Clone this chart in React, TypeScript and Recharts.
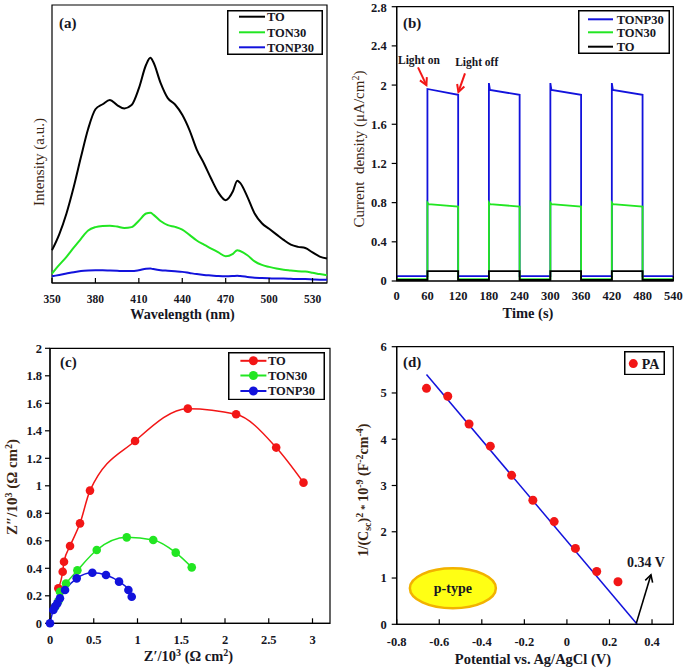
import React from "react";
import {
  LineChart,
  ComposedChart,
  Line,
  Scatter,
  XAxis,
  YAxis,
  ReferenceArea,
  ReferenceLine,
  ReferenceDot,
  Legend,
} from "recharts";

const SERIF = "'Liberation Serif', 'Times New Roman', serif";
const INK = "#161623";
const BROWN = "#3a2614";
const BLUE = "#1212dc";
const GREEN = "#22e622";
const RED = "#f21616";

// (a) PL spectra, intensity in arbitrary units (0..100 of the frame)
const wavelengths = [350, 355, 360, 365, 370, 375, 380, 385, 390, 395, 400, 405, 410, 415, 418, 420, 425, 430, 435, 440, 445, 450, 455, 460, 465, 470, 475, 478, 480, 485, 490, 495, 500, 505, 510, 515, 520, 525, 530, 535, 540];
const plTO = [11.8, 17.5, 25, 34.5, 45.3, 55.5, 62.5, 64.3, 65.8, 64, 62.8, 64, 70, 78.5, 81, 79.5, 72, 66.5, 64.2, 60.5, 55, 48, 43, 37.5, 32.5, 29.8, 33, 36.8, 36, 31, 25, 21.5, 19.5, 17.5, 15.5, 13.8, 13, 12.6, 11, 9.5, 8.8];
const plTON30 = [3.4, 6.5, 9.4, 12.7, 15.9, 18.9, 20.1, 20.5, 20.6, 20.3, 19.8, 20.1, 22.4, 25, 25.3, 24.6, 22.3, 20.8, 20.2, 19.2, 17.3, 15.3, 13.8, 12.4, 11, 9.6, 10.5, 11.8, 11.5, 10, 7.8, 6.5, 5.8, 5.2, 4.8, 4.5, 4.2, 4.1, 3.7, 3.2, 2.8];
const plTONP30 = [2.4, 2.9, 3.4, 3.9, 4.3, 4.5, 4.6, 4.6, 4.5, 4.4, 4.3, 4.3, 4.6, 5.1, 5.2, 5.0, 4.6, 4.4, 4.2, 4.0, 3.6, 3.2, 2.9, 2.7, 2.5, 2.4, 2.5, 2.6, 2.5, 2.2, 1.9, 1.8, 1.7, 1.6, 1.6, 1.5, 1.4, 1.4, 1.3, 1.2, 1.2];
const wavelengthTicks = [350, 380, 410, 440, 470, 500, 530];

// (b) transient photocurrent
const timeTicks = [0, 60, 120, 180, 240, 300, 360, 420, 480, 540];
const currentTicks = [0, 0.4, 0.8, 1.2, 1.6, 2, 2.4, 2.8];
const tTONP30 = [0, 60, 60, 120, 120, 180, 180, 182, 240, 240, 300, 300, 302, 360, 360, 420, 420, 422, 480, 480, 540];
const jTONP30 = [0.05, 0.05, 1.96, 1.9, 0.05, 0.05, 2.02, 1.95, 1.9, 0.05, 0.05, 2.02, 1.95, 1.9, 0.05, 0.05, 2.02, 1.95, 1.9, 0.05, 0.05];
const tTON30 = [0, 60, 60, 62, 120, 120, 180, 180, 182, 240, 240, 300, 300, 302, 360, 360, 420, 420, 422, 480, 480, 540];
const jTON30 = [0.02, 0.02, 0.8, 0.785, 0.76, 0.02, 0.02, 0.8, 0.785, 0.76, 0.02, 0.02, 0.8, 0.785, 0.76, 0.02, 0.02, 0.8, 0.785, 0.76, 0.02, 0.02];
const tTO = [0, 60, 60, 120, 120, 180, 180, 240, 240, 300, 300, 360, 360, 420, 420, 480, 480, 540];
const jTO = [0.01, 0.01, 0.1, 0.1, 0.01, 0.01, 0.1, 0.1, 0.01, 0.01, 0.1, 0.1, 0.01, 0.01, 0.1, 0.1, 0.01, 0.01];

// (c) Nyquist plots
const zTicksX = [0, 0.5, 1, 1.5, 2, 2.5, 3];
const zTicksY = [0, 0.2, 0.4, 0.6, 0.8, 1, 1.2, 1.4, 1.6, 1.8, 2];
const zReTO = [0.095, 0.145, 0.16, 0.229, 0.343, 0.457, 0.972, 1.575, 2.127, 2.585, 2.897];
const zImTO = [0.255, 0.375, 0.448, 0.562, 0.727, 0.965, 1.326, 1.561, 1.52, 1.278, 1.023];
const zReTON30 = [0.06, 0.095, 0.114, 0.183, 0.313, 0.534, 0.877, 1.18, 1.437, 1.62];
const zImTON30 = [0.12, 0.16, 0.23, 0.29, 0.385, 0.533, 0.625, 0.606, 0.514, 0.407];
const zReTONP30 = [0, 0.038, 0.057, 0.084, 0.114, 0.172, 0.305, 0.484, 0.64, 0.789, 0.896, 0.934];
const zImTONP30 = [0, 0.097, 0.121, 0.145, 0.182, 0.242, 0.327, 0.368, 0.351, 0.303, 0.242, 0.193];

// (d) Mott-Schottky
const potentialTicks = [-0.8, -0.6, -0.4, -0.2, 0, 0.2, 0.4];
const msTicks = [0, 1, 2, 3, 4, 5, 6];
const potentials = [-0.66, -0.56, -0.46, -0.36, -0.26, -0.16, -0.06, 0.04, 0.14, 0.24];
const invCsq = [5.1, 4.93, 4.33, 3.85, 3.22, 2.68, 2.22, 1.64, 1.14, 0.92];
const fitPotentials = [-0.66, 0.33];
const fitValues = [5.4, 0];

const pairs = (xs: number[], ys: number[]) => xs.map((x, i) => ({ x, y: ys[i] }));

const plData = wavelengths.map((w, i) => ({ w, TO: plTO[i], TON30: plTON30[i], TONP30: plTONP30[i] }));

const tick = (size: number) => ({ fontSize: size, fontWeight: 700, fill: INK, fontFamily: SERIF });
const axisLine = { stroke: "#000", strokeWidth: 1.2 };

type Item = { name: string; color: string };

function BoxLegend({ items, w, h, rows, lineFrom, lineTo, textX, dot, fontSize }: {
  items: Item[]; w: number; h: number; rows: number[]; lineFrom: number; lineTo: number;
  textX: number; dot?: boolean; fontSize: number;
}) {
  return (
    <svg width={w} height={h} style={{ display: "block" }}>
      <rect x={0.75} y={0.75} width={w - 1.5} height={h - 1.5} fill="#fff" stroke="#000" strokeWidth={1.5} />
      {items.map((it, i) => (
        <g key={it.name}>
          {lineTo > lineFrom && (
            <line x1={lineFrom} x2={lineTo} y1={rows[i]} y2={rows[i]} stroke={it.color} strokeWidth={2} />
          )}
          {dot && <circle cx={(lineFrom + lineTo) / 2} cy={rows[i]} r={4.5} fill={it.color} />}
          <text x={textX} y={rows[i]} dy="0.35em" fontFamily={SERIF} fontWeight={700} fontSize={fontSize} fill={INK}>
            {it.name}
          </text>
        </g>
      ))}
    </svg>
  );
}

const arrowShape = (color: string, width: number, head: number) => (p: any) => {
  const { x1, y1, x2, y2 } = p;
  const a = Math.atan2(y2 - y1, x2 - x1);
  const ax = x2 - head * Math.cos(a - 0.5);
  const ay = y2 - head * Math.sin(a - 0.5);
  const bx = x2 - head * Math.cos(a + 0.5);
  const by = y2 - head * Math.sin(a + 0.5);
  return (
    <g>
      <line x1={x1} y1={y1} x2={x2} y2={y2} stroke={color} strokeWidth={width} />
      <polyline points={`${ax},${ay} ${x2},${y2} ${bx},${by}`} fill="none" stroke={color} strokeWidth={width} />
    </g>
  );
};

const textShape = (label: string, size: number, color = INK) => (p: any) => (
  <text x={p.cx} y={p.cy} textAnchor="middle" fontFamily={SERIF} fontWeight={700} fontSize={size} fill={color}>
    {label}
  </text>
);

const ellipseShape = (p: any) => (
  <g>
    <ellipse cx={p.cx} cy={p.cy} rx={43} ry={20} fill="#ffff14" stroke="#f2b200" strokeWidth={2.5} />
    <text x={p.cx} y={p.cy} dy="0.35em" textAnchor="middle" fontFamily={SERIF} fontWeight={700} fontSize={14} fill={INK}>
      p-type
    </text>
  </g>
);

const legendPos = { layout: "vertical" as const, align: "center" as const, verticalAlign: "middle" as const };

function PanelA() {
  return (
    <LineChart width={340} height={330} data={plData} margin={{ top: 5, right: 13, bottom: 17, left: 52 }}>
      <XAxis dataKey="w" type="number" domain={[350, 540]} ticks={wavelengthTicks} height={30}
        tick={tick(11.5)} tickSize={-5} tickMargin={17} axisLine={axisLine} tickLine={axisLine} />
      <YAxis type="number" domain={[0, 100]} hide />
      <ReferenceArea x1={350} x2={540} y1={0} y2={100} fill="none" stroke="#000" strokeWidth={1.2} ifOverflow="visible" />
      <Line dataKey="TO" type="monotone" stroke="#000" strokeWidth={2} dot={false} isAnimationActive={false} />
      <Line dataKey="TON30" type="monotone" stroke={GREEN} strokeWidth={2} dot={false} isAnimationActive={false} />
      <Line dataKey="TONP30" type="monotone" stroke={BLUE} strokeWidth={2} dot={false} isAnimationActive={false} />
      <Legend {...legendPos} wrapperStyle={{ left: 227, top: 10, width: 96, height: 45 }}
        content={() => (
          <BoxLegend items={[{ name: "TO", color: "#000" }, { name: "TON30", color: GREEN }, { name: "TONP30", color: BLUE }]}
            w={96} h={45} rows={[6.7, 22.3, 37.3]} lineFrom={12} lineTo={38} textX={40} fontSize={12.5} />
        )} />
    </LineChart>
  );
}

function PanelB() {
  return (
    <LineChart width={345} height={330} margin={{ top: 6.7, right: 11.7, bottom: 19, left: 16.7 }}>
      <XAxis dataKey="x" type="number" domain={[0, 540]} ticks={timeTicks} height={30}
        tick={tick(12.5)} tickSize={-5} tickMargin={15} axisLine={axisLine} tickLine={axisLine} />
      <YAxis dataKey="y" type="number" domain={[0, 2.8]} ticks={currentTicks} width={40}
        tick={tick(12.5)} tickSize={5} tickMargin={5} axisLine={axisLine} tickLine={axisLine} />
      <ReferenceArea x1={0} x2={540} y1={0} y2={2.8} fill="none" stroke="#000" strokeWidth={1.2} ifOverflow="visible" />
      <Line data={pairs(tTONP30, jTONP30)} dataKey="y" type="linear" stroke={BLUE} strokeWidth={1.8} dot={false} isAnimationActive={false} />
      <Line data={pairs(tTON30, jTON30)} dataKey="y" type="linear" stroke={GREEN} strokeWidth={1.8} dot={false} isAnimationActive={false} />
      <Line data={pairs(tTO, jTO)} dataKey="y" type="linear" stroke="#000" strokeWidth={1.8} dot={false} isAnimationActive={false} />
      <ReferenceLine segment={[{ x: 41.6, y: 2.18 }, { x: 58, y: 2.0 }]} shape={arrowShape(RED, 2, 8)} />
      <ReferenceLine segment={[{ x: 133.3, y: 2.12 }, { x: 120.5, y: 1.93 }]} shape={arrowShape(RED, 2, 8)} />
      <ReferenceDot x={43.4} y={2.22} r={0} shape={textShape("Light on", 11.5)} />
      <ReferenceDot x={156.2} y={2.19} r={0} shape={textShape("Light off", 11.5)} />
      <Legend {...legendPos} wrapperStyle={{ left: 238, top: 10, width: 92, height: 44 }}
        content={() => (
          <BoxLegend items={[{ name: "TONP30", color: BLUE }, { name: "TON30", color: GREEN }, { name: "TO", color: "#000" }]}
            w={92} h={44} rows={[9.3, 22.3, 36.7]} lineFrom={10} lineTo={35} textX={38.7} fontSize={12.5} />
        )} />
    </LineChart>
  );
}

function PanelC() {
  return (
    <LineChart width={340} height={341} margin={{ top: 18.3, right: 10, bottom: 17.7, left: 15 }}>
      <XAxis dataKey="x" type="number" domain={[0, 3.2]} ticks={zTicksX} height={30}
        tick={tick(12.5)} tickSize={-5} tickMargin={16.5} axisLine={axisLine} tickLine={axisLine} />
      <YAxis dataKey="y" type="number" domain={[0, 2]} ticks={zTicksY} width={35}
        tick={tick(12.5)} tickSize={5} tickMargin={3} axisLine={axisLine} tickLine={axisLine} />
      <ReferenceArea x1={0} x2={3.2} y1={0} y2={2} fill="none" stroke="#000" strokeWidth={1.2} ifOverflow="visible" />
      <Line data={pairs(zReTO, zImTO)} dataKey="y" type="monotone" stroke={RED} strokeWidth={1.5}
        dot={{ r: 4.3, fill: RED, stroke: RED, strokeWidth: 0 }} isAnimationActive={false} />
      <Line data={pairs(zReTON30, zImTON30)} dataKey="y" type="monotone" stroke={GREEN} strokeWidth={1.5}
        dot={{ r: 4.3, fill: GREEN, stroke: GREEN, strokeWidth: 0 }} isAnimationActive={false} />
      <Line data={pairs(zReTONP30, zImTONP30)} dataKey="y" type="monotone" stroke={BLUE} strokeWidth={1.5}
        dot={{ r: 4.3, fill: BLUE, stroke: BLUE, strokeWidth: 0 }} isAnimationActive={false} />
      <Legend {...legendPos} wrapperStyle={{ left: 228.3, top: 21.7, width: 97, height: 48.3 }}
        content={() => (
          <BoxLegend items={[{ name: "TO", color: RED }, { name: "TON30", color: GREEN }, { name: "TONP30", color: BLUE }]}
            w={97} h={48.3} rows={[8.8, 23.5, 39]} lineFrom={12.4} lineTo={38.4} textX={40} dot fontSize={12.5} />
        )} />
    </LineChart>
  );
}

function PanelD() {
  return (
    <ComposedChart width={345} height={341} margin={{ top: 16.7, right: 11.7, bottom: 16.7, left: 16.7 }}>
      <XAxis dataKey="x" type="number" domain={[-0.8, 0.5]} ticks={potentialTicks} height={30}
        tick={tick(12.5)} tickSize={-5} tickMargin={17.5} axisLine={axisLine} tickLine={axisLine} />
      <YAxis dataKey="y" type="number" domain={[0, 6]} ticks={msTicks} width={40}
        tick={tick(12.5)} tickSize={5} tickMargin={5} axisLine={axisLine} tickLine={axisLine} />
      <ReferenceArea x1={-0.8} x2={0.5} y1={0} y2={6} fill="none" stroke="#000" strokeWidth={1.2} ifOverflow="visible" />
      <Scatter data={pairs(potentials, invCsq)} fill={RED} isAnimationActive={false}
        shape={(p: any) => <circle cx={p.cx} cy={p.cy} r={4.5} fill={RED} />} />
      <Line data={pairs(fitPotentials, fitValues)} dataKey="y" type="linear" stroke={BLUE} strokeWidth={1.5} dot={false} isAnimationActive={false} />
      <ReferenceLine segment={[{ x: 0.326, y: 0.02 }, { x: 0.395, y: 1.07 }]} shape={arrowShape("#000", 1.6, 8)} />
      <ReferenceDot x={0.371} y={1.24} r={0} shape={textShape("0.34 V", 14)} />
      <ReferenceDot x={-0.536} y={0.778} r={0} shape={ellipseShape} />
      <Legend {...legendPos} wrapperStyle={{ left: 284, top: 20.7, width: 41, height: 24.3 }}
        content={() => (
          <BoxLegend items={[{ name: "PA", color: RED }]} w={41} h={24.3} rows={[12.6]}
            lineFrom={9.3} lineTo={9.3} textX={17.7} dot fontSize={14} />
        )} />
    </ComposedChart>
  );
}

export default function App() {
  const tt = { fontFamily: SERIF, fill: INK };
  return (
    <div style={{ position: "absolute", left: 0, top: 0, width: 685, height: 671, background: "#fff", overflow: "hidden" }}>
      <div style={{ position: "absolute", left: 0, top: 0 }}><PanelA /></div>
      <div style={{ position: "absolute", left: 340, top: 0 }}><PanelB /></div>
      <div style={{ position: "absolute", left: 0, top: 330 }}><PanelC /></div>
      <div style={{ position: "absolute", left: 340, top: 330 }}><PanelD /></div>
      <svg width={685} height={671} style={{ position: "absolute", left: 0, top: 0, pointerEvents: "none" }}>
        {/* panel letters */}
        <text x={59} y={28} fontSize={15} fontWeight={700} {...tt}>(a)</text>
        <text x={403} y={28} fontSize={15} fontWeight={700} {...tt}>(b)</text>
        <text x={60} y={367} fontSize={15} fontWeight={700} {...tt}>(c)</text>
        <text x={403} y={367} fontSize={15} fontWeight={700} {...tt}>(d)</text>

        {/* x titles */}
        <text x={182.5} y={319} textAnchor="middle" fontSize={14.2} fontWeight={700} {...tt}>Wavelength (nm)</text>
        <text x={528} y={318} textAnchor="middle" fontSize={14.5} fontWeight={700} {...tt}>Time (s)</text>
        <text x={188.5} y={661} textAnchor="middle" fontSize={14.5} fontWeight={700} {...tt}>
          Z′/10<tspan dy={-5} fontSize={10}>3</tspan><tspan dy={5}> (Ω cm</tspan>
          <tspan dy={-5} fontSize={10}>2</tspan><tspan dy={5}>)</tspan>
        </text>
        <text x={533} y={664} textAnchor="middle" fontSize={14.5} fontWeight={700} {...tt}>Potential vs. Ag/AgCl (V)</text>

        {/* y titles */}
        <text x={44} y={162} transform="rotate(-90 44 162)" textAnchor="middle" fontSize={15} fontFamily={SERIF} fill={BROWN}>
          Intensity (a.u.)
        </text>
        <text x={364} y={149} transform="rotate(-90 364 149)" textAnchor="middle" fontSize={15} fontFamily={SERIF} fill={BROWN}>
          Current{"\u00a0 "}density (μA/cm<tspan dy={-5} fontSize={10}>2</tspan><tspan dy={5}>)</tspan>
        </text>
        <text x={17} y={487} transform="rotate(-90 17 487)" textAnchor="middle" fontSize={15} fontWeight={700} fontFamily={SERIF} fill={BROWN}>
          Z″/10<tspan dy={-5} fontSize={10}>3</tspan><tspan dy={5}> (Ω cm</tspan>
          <tspan dy={-5} fontSize={10}>2</tspan><tspan dy={5}>)</tspan>
        </text>
        <text x={368} y={490} transform="rotate(-90 368 490)" textAnchor="middle" fontSize={14} fontWeight={700} fontFamily={SERIF} fill={BROWN}>
          1/(C<tspan dy={3} fontSize={10}>sc</tspan><tspan dy={-3}>)</tspan>
          <tspan dy={-5} fontSize={10}>2</tspan><tspan dy={5} fontSize={11}> * </tspan><tspan>10</tspan>
          <tspan dy={-5} fontSize={10}>-9</tspan><tspan dy={5}> (F</tspan>
          <tspan dy={-5} fontSize={10}>-2</tspan><tspan dy={5}>cm</tspan>
          <tspan dy={-5} fontSize={10}>-4</tspan><tspan dy={5}>)</tspan>
        </text>
      </svg>
    </div>
  );
}
